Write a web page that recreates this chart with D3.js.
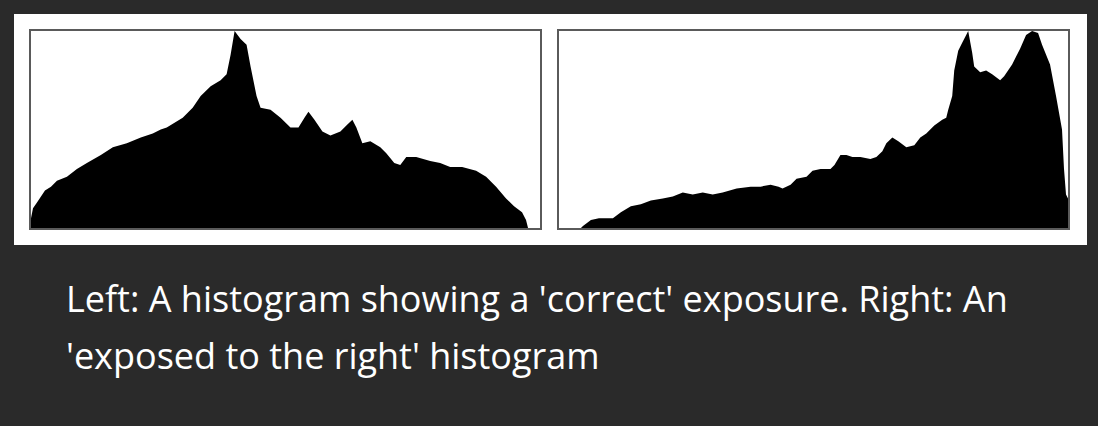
<!DOCTYPE html>
<html>
<head>
<meta charset="utf-8">
<script src="https://cdn.jsdelivr.net/npm/d3@7"></script>
<style>
  html, body { margin: 0; padding: 0; background: #2a2a2a; }
  svg { display: block; }
</style>
</head>
<body>
<div id="chart"></div>
<script>
'use strict';

// tone levels (0-255) and relative pixel counts (% of peak)
var leftLevels = [0, 1, 3, 5, 7, 10, 13, 18, 23, 28, 35, 41, 48, 55, 61, 65, 68, 76, 81, 85, 90, 95, 98, 100, 102, 105, 108, 110, 113, 115, 120, 125, 130, 134, 137, 139, 142, 146, 150, 155, 158, 161, 163, 166, 170, 175, 178, 182, 185, 188, 193, 200, 205, 210, 216, 223, 228, 233, 238, 242, 246, 248, 249, 255];
var leftCounts = [5, 10, 13, 16, 19, 21, 24, 26, 30, 33, 37, 41, 43, 46, 48, 50, 51, 56, 61, 67, 72, 75, 78, 88, 100, 96, 93, 82, 67, 61, 60, 56, 51, 51, 56, 59, 55, 49, 47, 49, 52, 55, 51, 43, 44, 41, 38, 33, 32, 36, 36, 34, 33, 31, 31, 29, 26, 21, 15, 11, 8, 4, 0, 0];

var rightLevels = [0, 11, 12, 16, 20, 27, 31, 36, 41, 46, 52, 57, 62, 67, 72, 77, 82, 89, 96, 101, 106, 110, 112, 116, 119, 124, 127, 131, 136, 138, 141, 144, 147, 151, 156, 159, 162, 164, 167, 170, 174, 178, 181, 184, 188, 192, 194, 195, 197, 198, 200, 202, 204, 205, 207, 208, 211, 214, 217, 221, 223, 227, 231, 234, 237, 240, 242, 246, 249, 252, 253, 254, 255];
var rightCounts = [0, 0, 1, 4, 5, 5, 8, 11, 12, 14, 15, 16, 18, 17, 18, 17, 18, 20, 21, 21, 22, 21, 20, 22, 25, 26, 29, 30, 30, 32, 37, 37, 36, 36, 35, 36, 39, 43, 46, 44, 41, 42, 46, 48, 52, 55, 56, 60, 67, 80, 90, 94, 98, 100, 89, 82, 79, 80, 78, 75, 77, 83, 91, 98, 100, 99, 93, 83, 67, 50, 30, 17, 15];

var captionLines = [
  "Left: A histogram showing a 'correct' exposure. Right: An",
  "'exposed to the right' histogram"
];

var width = 1098, height = 426;

var svg = d3.select('#chart').append('svg')
  .attr('width', width)
  .attr('height', height);

svg.append('rect')
  .attr('width', width).attr('height', height)
  .style('fill', '#2a2a2a');

// white card behind both histograms
svg.append('rect')
  .attr('x', 14).attr('y', 14)
  .attr('width', 1073).attr('height', 231)
  .style('fill', '#ffffff');

var panels = [
  { levels: leftLevels, counts: leftCounts, left: 30, right: 541 },
  { levels: rightLevels, counts: rightCounts, left: 558, right: 1069 }
];
var boxTop = 30, boxBottom = 229;

panels.forEach(function (p) {
  var x = d3.scaleLinear().domain([0, 255]).range([p.left + 1, p.right - 1]);
  var y = d3.scaleLinear().domain([0, 100]).range([boxBottom - 1, boxTop + 1]);

  var area = d3.area()
    .x(function (d, i) { return x(p.levels[i]); })
    .y0(y(0))
    .y1(function (d) { return y(d); })
    .curve(d3.curveLinear);

  svg.append('path')
    .datum(p.counts)
    .style('fill', '#000')
    .attr('d', area);

  svg.append('rect')
    .attr('x', p.left).attr('y', boxTop)
    .attr('width', p.right - p.left).attr('height', boxBottom - boxTop)
    .style('fill', 'none')
    .style('stroke', '#5a5a5a')
    .style('stroke-width', 2);
});

// caption
svg.selectAll('text.caption')
  .data(captionLines)
  .enter().append('text')
  .attr('class', 'caption')
  .attr('x', 66)
  .attr('y', function (d, i) { return 312 + i * 56.5; })
  .style('fill', '#ffffff')
  .style('font-family', "'Open Sans', sans-serif")
  .style('font-size', '36px')
  .text(function (d) { return d; });
</script>
</body>
</html>
